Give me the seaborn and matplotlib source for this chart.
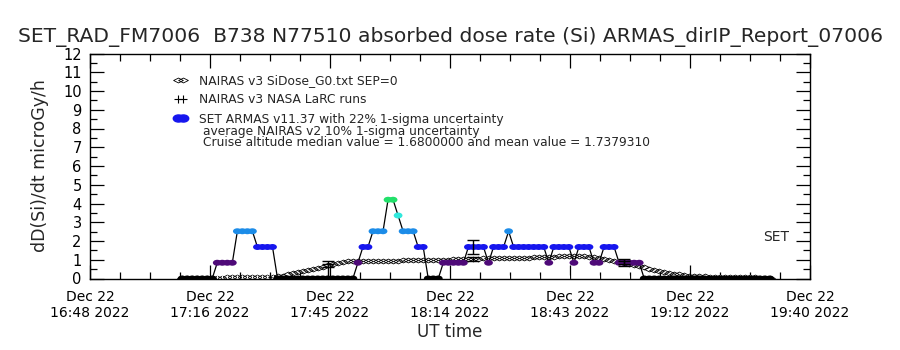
import numpy as np
import pandas as pd
import matplotlib
matplotlib.use("Agg")
import matplotlib.pyplot as plt
import seaborn as sns
from matplotlib.path import Path
from matplotlib.lines import Line2D

# ---------------- data ----------------
# flight-track samples, minutes after 16:48 UT (Dec 22 2022), fixed cadence
sample_start_min = 22.0
sample_step_min = 1.2

# SET ARMAS v11.37 dose rate (microGy/h)
armas_dose = [
    0, 0, 0, 0, 0, 0, 0, 0.84, 0.84, 0.84,
    0.84, 2.52, 2.52, 2.52, 2.52, 1.68, 1.68, 1.68, 1.68, 0,
    0, 0, 0, 0, 0, 0, 0, 0, 0, 0,
    0, 0, 0, 0, 0, 0.84, 1.68, 1.68, 2.52, 2.52,
    2.52, 4.2, 4.2, 3.36, 2.52, 2.52, 2.52, 1.68, 1.68, 0,
    0, 0, 0.84, 0.84, 0.84, 0.84, 0.84, 1.68, 1.68, 1.68,
    1.68, 0.84, 1.68, 1.68, 1.68, 2.52, 1.68, 1.68, 1.68, 1.68,
    1.68, 1.68, 1.68, 0.84, 1.68, 1.68, 1.68, 1.68, 0.84, 1.68,
    1.68, 1.68, 0.84, 0.84, 1.68, 1.68, 1.68, 0.84, 0.84, 0.84,
    0.84, 0.84, 0, 0, 0, 0, 0, 0, 0, 0,
    0, 0, 0, 0, 0, 0, 0, 0, 0, 0,
    0, 0, 0, 0, 0, 0, 0, 0,
]

# NAIRAS v3 SiDose_G0 (SEP=0) along the track
nairas_dose = [
    0.02, 0.02, 0.03, 0.03, 0.03, 0.04, 0.04, 0.05, 0.05, 0.06,
    0.06, 0.07, 0.07, 0.07, 0.08, 0.08, 0.09, 0.09, 0.10, 0.12,
    0.16, 0.22, 0.28, 0.34, 0.40, 0.46, 0.52, 0.58, 0.64, 0.70,
    0.76, 0.82, 0.87, 0.91, 0.93, 0.94, 0.94, 0.95, 0.95, 0.95,
    0.96, 0.96, 0.96, 0.96, 0.97, 0.97, 0.98, 0.98, 0.99, 0.99,
    1.00, 1.00, 1.01, 1.01, 1.02, 1.02, 1.03, 1.04, 1.05, 1.06,
    1.07, 1.08, 1.08, 1.09, 1.09, 1.10, 1.10, 1.10, 1.11, 1.12,
    1.13, 1.14, 1.15, 1.16, 1.17, 1.18, 1.19, 1.20, 1.20, 1.20,
    1.19, 1.17, 1.13, 1.08, 1.04, 0.99, 0.94, 0.89, 0.84, 0.78,
    0.72, 0.66, 0.60, 0.53, 0.46, 0.40, 0.34, 0.29, 0.25, 0.22,
    0.19, 0.16, 0.14, 0.12, 0.11, 0.10, 0.10, 0.09, 0.09, 0.08,
    0.08, 0.07, 0.07, 0.06, 0.06, 0.05, 0.05, 0.05,
]

# representative uncertainty bars
errbar_time_min = [56.8, 91.6, 127.6]
errbar_armas = [0.46, 1.68, 0.84]
errbar_armas_sigma = [0.45, 0.37, 0.185]
errbar_nairas = [0.70, 1.05, 0.86]
nairas_rel_sigma = 0.10

xtick_min = [0, 28.667, 57.333, 86.0, 114.667, 143.333, 172.0]
xtick_labels = ["Dec 22\n16:48 2022", "Dec 22\n17:16 2022", "Dec 22\n17:45 2022",
                "Dec 22\n18:14 2022", "Dec 22\n18:43 2022", "Dec 22\n19:12 2022",
                "Dec 22\n19:40 2022"]

level_colors = {"0.00": "#000000", "0.84": "#4e0a78", "1.68": "#1616ee",
                "2.52": "#1c8ce8", "3.36": "#30e8dc", "4.20": "#22e06a"}

title = "SET_RAD_FM7006  B738 N77510 absorbed dose rate (Si) ARMAS_dirIP_Report_07006"
legend_labels = ["NAIRAS v3 SiDose_G0.txt SEP=0", "NAIRAS v3 NASA LaRC runs",
                 "SET ARMAS v11.37 with 22% 1-sigma uncertainty"]
note1 = "average NAIRAS v2 10% 1-sigma uncertainty"
note2 = "Cruise altitude median value = 1.6800000 and mean value = 1.7379310"

# ---------------- frame ----------------
n = len(armas_dose)
t = sample_start_min + sample_step_min * np.arange(n)
df = pd.DataFrame({"t": t, "armas": armas_dose, "nairas": nairas_dose,
                   "larc": np.zeros(n)})
df["level"] = df["armas"].map(lambda v: f"{v:.2f}")

sns.set_theme(style="white")
plt.rcParams["font.family"] = ["DejaVu Sans"]

fig = plt.figure(figsize=(9, 3.5), dpi=100)
ax = fig.add_axes([90 / 900, (350 - 278.5) / 350, 720 / 900, 225 / 350])

diamond = Path([(0, -0.5), (1, 0), (0, 0.5), (-1, 0), (0, -0.5)],
               [Path.MOVETO, Path.LINETO, Path.LINETO, Path.LINETO, Path.CLOSEPOLY])
circ = Path.unit_circle()
ellipse = Path(circ.vertices * np.array([1.0, 0.68]), circ.codes)

# NAIRAS diamonds
sns.lineplot(data=df, x="t", y="nairas", ax=ax, estimator=None, sort=False,
             linestyle="none", marker=diamond, markersize=7,
             markerfacecolor="none", markeredgecolor="black",
             markeredgewidth=0.6, color="black", zorder=2)
# LaRC baseline "+" marks
sns.lineplot(data=df, x="t", y="larc", ax=ax, estimator=None, sort=False,
             linestyle="none", marker="+", markersize=6, markeredgewidth=0.8,
             color="black", zorder=2)
# ARMAS connecting line
sns.lineplot(data=df, x="t", y="armas", ax=ax, estimator=None, sort=False,
             color="black", linewidth=0.9, zorder=3)
# ARMAS points coloured by level
sns.scatterplot(data=df, x="t", y="armas", hue="level", palette=level_colors,
                ax=ax, marker=ellipse, s=40, linewidth=0, legend=False, zorder=4)

# uncertainty bars
ax.errorbar(errbar_time_min, errbar_armas, yerr=errbar_armas_sigma, fmt="none",
            ecolor="black", elinewidth=1.0, capsize=4, capthick=1.0, zorder=5)
ax.errorbar(errbar_time_min, errbar_nairas,
            yerr=[v * nairas_rel_sigma for v in errbar_nairas], fmt="none",
            ecolor="black", elinewidth=1.0, capsize=4, capthick=1.0, zorder=5)

# ---------------- axes styling ----------------
ax.set_xlim(0, 172)
ax.set_ylim(0, 12)
ax.set_xticks(xtick_min)
ax.set_xticklabels(xtick_labels, fontsize=10, linespacing=1.25)
ax.set_xticks(np.arange(0, 172.1, 172 / 24), minor=True)
ax.set_yticks(range(0, 13))
ax.set_yticklabels([str(v) for v in range(0, 13)], fontsize=10.5)
ax.set_yticks(np.arange(0, 12.01, 0.5), minor=True)
ax.tick_params(which="both", direction="in", top=True, right=True,
               bottom=True, left=True, colors="black", width=0.9)
ax.tick_params(which="major", length=10)
ax.tick_params(which="minor", length=5)
ax.tick_params(axis="x", which="major", pad=8)
ax.tick_params(axis="y", which="major", pad=6)
for sp in ax.spines.values():
    sp.set_color("black")
    sp.set_linewidth(1.0)
ax.grid(False)
ax.set_xlabel("UT time", fontsize=12, labelpad=2)
ax.set_ylabel("dD(Si)/dt microGy/h", fontsize=12.5, labelpad=10)
fig.suptitle(title, fontsize=14.6, y=1 - 37 / 350, va="center")

# legend
handles = [
    Line2D([], [], linestyle="none", marker=diamond, markersize=7,
           markerfacecolor="none", markeredgecolor="black", markeredgewidth=0.6),
    Line2D([], [], linestyle="none", marker="+", markersize=6, color="black",
           markeredgewidth=0.8),
    Line2D([], [], linestyle="none", marker=ellipse, markersize=7.5,
           color=level_colors["1.68"]),
]
fig.legend(handles, legend_labels, loc="upper left",
           bbox_to_anchor=(174 / 900, 1 - 74 / 350), frameon=False,
           fontsize=8.8, numpoints=2, handlelength=1.0, handletextpad=1.05,
           labelspacing=0.52, borderpad=0, borderaxespad=0)
fig.text(203 / 900, 1 - 131 / 350, note1, fontsize=8.8, va="center", ha="left")
fig.text(203 / 900, 1 - 142.5 / 350, note2, fontsize=8.8, va="center", ha="left")
fig.text(763 / 900, 1 - 237 / 350, "SET", fontsize=10, va="center", ha="left")

fig.savefig("out.png", dpi=100)
